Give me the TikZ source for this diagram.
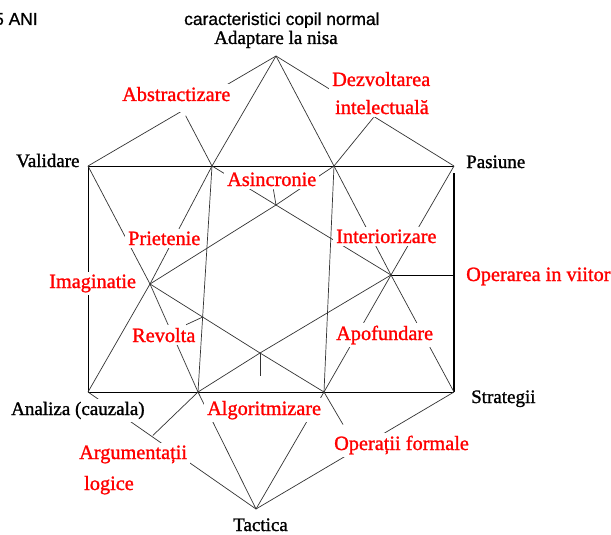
\documentclass[tikz,border=0pt]{standalone}
\usepackage{fontspec}
\setmainfont{Liberation Serif}
\newfontfamily\hdrfont{Liberation Sans}
\begin{document}
\begin{tikzpicture}[x=1pt,y=-1pt,
  ln/.style={black!80,line width=0.7pt},
  frame/.style={black,line width=0.8pt},
  redlab/.style={text=red,fill=white,inner sep=3pt,anchor=base west,font=\fontsize{#1}{#1}\selectfont\addfontfeatures{FakeBold=1.2}},
  blklab/.style={text=black,fill=white,inner sep=3pt,anchor=base west,font=\fontsize{#1}{#1}\selectfont\addfontfeatures{FakeBold=1.2}},
  hdr/.style={text=black,inner sep=0pt,anchor=base west,font=\hdrfont\fontsize{17.4}{17.4}\selectfont\addfontfeatures{FakeBold=0.8}},
]
\fill[white] (0,0) rectangle (611,535);
\useasboundingbox (0,0) rectangle (611,535);

% key points
\coordinate (A)  at (276,56);
\coordinate (V)  at (88,166);
\coordinate (Pa) at (454,166);
\coordinate (S)  at (454,392);
\coordinate (An) at (88,392);
\coordinate (T)  at (256,509);
\coordinate (P1) at (212,166);
\coordinate (P2) at (334,166);
\coordinate (B1) at (198,392);
\coordinate (B2) at (324,392);
\coordinate (Im) at (150,284);
\coordinate (Op) at (391,275);
\coordinate (C1) at (276,205);
\coordinate (C2) at (260,353);
\coordinate (C2s) at (260,376);
\coordinate (Q4) at (intersection of P1--B1 and C2--Im);
\coordinate (OpR) at (Op -| S);

% frame
\draw[frame] (V) -- (Pa);
\draw[frame] (V) -- (An) -- (S);
\draw[frame,line width=1.3pt,shorten <=7pt] (Pa) -- (S);
\draw[frame,line width=1pt] (Op) -- (OpR);

% star lines
\draw[ln] (A) -- (V);
\draw[ln] (A) -- (Pa);
\draw[ln] (A) -- (P1);
\draw[ln] (A) -- (P2);
\draw[ln] (P1) -- (B1);
\draw[ln] (P2) -- (B2);
\draw[ln] (P1) -- (Im);
\draw[ln] (V) -- (Im);
\draw[ln] (P2) -- (Op);
\draw[ln] (Pa) -- (Op);
\draw[ln] (C1) -- (Op) -- (C2) -- (Im) -- cycle;
\draw[ln] (P1) -- (C1);
\draw[ln] (P2) -- (C1);
\draw[ln] (Im) -- (An);
\draw[ln] (Im) -- (B1);
\draw[ln] (Op) -- (B2);
\draw[ln] (Op) -- (S);
\draw[ln] (B1) -- (C2) -- (B2);
\draw[ln] (C2) -- (C2s);
\draw[ln] (B1) -- (T);
\draw[ln] (B2) -- (T);
\draw[ln] (An) -- (T);
\draw[ln] (S) -- (T);

% header texts
\node[hdr] (ani) at (-6,25) {5 ANI};
\node[hdr] (title) at (184,25) {caracteristici copil normal};

% black labels
\node[blklab=19] (adapt) at (211,44) {Adaptare la nisa};
\node[blklab=19] (valid) at (13,167) {Validare};
\node[blklab=19] (pasi) at (463,168) {Pasiune};
\node[blklab=19] (strat) at (468,403) {Strategii};
\node[blklab=19] (anal) at (8,415) {Analiza (cauzala)};
\node[blklab=19] (tact) at (230,531) {Tactica};

% red labels
\node[redlab=20.3,text depth=8pt] (abs) at (119,101) {Abstractizare};
\node[redlab=20.3,text depth=8pt] (dez1) at (329,86) {Dezvoltarea};
\node[redlab=20.3] (dez2) at (332,114) {intelectuală};
\node[redlab=20.3] (asinc) at (224,186) {Asincronie};
\node[redlab=20.3] (priet) at (125,245) {Prietenie};
\node[redlab=20.3] (inter) at (333,243) {Interiorizare};
\node[redlab=20.3] (imag) at (46,288) {Imaginatie};
\node[redlab=20.3] (oper) at (463,281) {Operarea in viitor};
\node[redlab=20.3] (rev) at (129,342) {Revolta};
\node[redlab=20.3] (apof) at (333,340) {Apofundare};
\node[redlab=20.3] (algo) at (204,415) {Algoritmizare};
\node[redlab=20.3] (ops) at (331,450) {Operații formale};
\node[redlab=20.3] (arg) at (76,459) {Argumentații};
\node[redlab=20.3] (logi) at (81,490) {logice};

% label connectors
\draw[ln,shorten <=4pt] (abs) -- (P1);
\draw[ln] (dez2) -- (P2);
\draw[ln] (C1) -- (asinc);
\draw[ln] (Q4) -- (rev);
\draw[ln,shorten >=10pt] (B1) -- (arg);
\draw[ln] (B2) -- ([xshift=12pt,yshift=8pt]ops.north west);
\end{tikzpicture}
\end{document}
